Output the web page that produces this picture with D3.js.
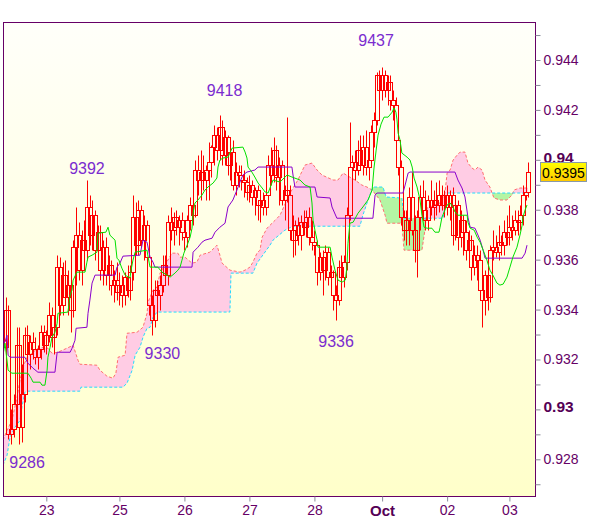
<!DOCTYPE html>
<html><head><meta charset="utf-8">
<script src="https://cdn.jsdelivr.net/npm/d3@7/dist/d3.min.js"></script>
<style>
html,body{margin:0;padding:0;background:#fff;}
svg{display:block;font-family:"Liberation Sans",Arial,sans-serif;}
</style>
</head><body>
<svg id="chart" width="600" height="519"></svg>
<script>
// ---- DATA (prices in pips, 1 pip = 0.0001) ----
const opens = [
9325,9340,9290,9292,9302,9326,9293,9306,9330,9322,
9327,9324,9321,9324,9331,9326,9330,9338,9329,9333,
9357,9342,9354,9345,9350,9340,9365,9370,9356,9368,
9364,9381,9370,9378,9364,9371,9356,9365,9354,9358,
9350,9352,9347,9350,9346,9353,9348,9355,9377,9366,
9380,9368,9374,9361,9342,9336,9348,9346,9350,9358,
9354,9375,9372,9377,9373,9376,9371,9369,9376,9382,
9378,9396,9392,9395,9392,9396,9399,9405,9410,9404,
9413,9402,9409,9398,9403,9390,9395,9394,9392,9391,
9387,9390,9385,9388,9382,9384,9381,9386,9398,9394,
9404,9393,9398,9384,9388,9386,9372,9368,9374,9370,
9375,9373,9377,9369,9367,9366,9355,9361,9356,9363,
9353,9355,9346,9344,9357,9353,9359,9378,9397,9399,
9396,9404,9398,9405,9397,9400,9411,9416,9434,9428,
9434,9428,9431,9424,9422,9408,9397,9377,9372,9376,
9385,9372,9364,9377,9385,9380,9376,9384,9381,9384,
9382,9386,9382,9386,9381,9386,9370,9382,9369,9376,
9371,9364,9368,9357,9362,9360,9348,9344,9354,9345,
9364,9365,9363,9367,9366,9371,9369,9373,9372,9376,
9375,9378,9386,9387];
const highs = [
9345,9342,9300,9306,9333,9333,9318,9333,9334,9330,
9331,9329,9326,9334,9334,9332,9343,9341,9336,9362,
9361,9359,9360,9356,9354,9368,9381,9375,9372,9376,
9392,9386,9384,9380,9374,9374,9368,9369,9362,9360,
9356,9359,9355,9354,9355,9358,9358,9386,9383,9384,
9382,9378,9376,9363,9346,9352,9352,9354,9362,9362,
9378,9381,9379,9380,9378,9379,9376,9378,9385,9386,
9400,9402,9404,9402,9398,9407,9406,9414,9413,9418,
9416,9412,9410,9405,9408,9399,9398,9398,9396,9393,
9394,9392,9389,9390,9386,9387,9388,9402,9405,9409,
9406,9401,9400,9390,9417,9390,9378,9376,9377,9378,
9380,9380,9381,9376,9372,9368,9363,9364,9366,9365,
9358,9356,9350,9360,9362,9362,9381,9415,9402,9404,
9408,9410,9410,9412,9406,9414,9419,9435,9436,9437,
9436,9434,9434,9428,9425,9410,9400,9380,9380,9389,
9395,9378,9380,9390,9392,9388,9386,9392,9388,9391,
9392,9390,9388,9390,9388,9389,9386,9384,9380,9378,
9376,9372,9370,9366,9366,9364,9358,9356,9356,9366,
9372,9370,9374,9370,9376,9378,9382,9378,9380,9380,
9382,9390,9390,9399];
const lows = [
9318,9288,9286,9289,9298,9286,9287,9303,9318,9316,
9320,9318,9316,9320,9323,9322,9327,9325,9322,9330,
9338,9338,9342,9338,9331,9337,9350,9352,9350,9360,
9360,9366,9364,9360,9358,9352,9350,9350,9348,9346,
9343,9344,9342,9341,9342,9345,9344,9352,9362,9362,
9365,9360,9355,9338,9330,9333,9336,9340,9347,9350,
9350,9368,9366,9370,9366,9368,9364,9365,9372,9374,
9377,9386,9384,9388,9384,9384,9393,9398,9400,9400,
9398,9398,9394,9392,9388,9386,9389,9388,9385,9384,
9383,9382,9378,9376,9375,9378,9378,9383,9390,9391,
9388,9382,9382,9376,9383,9368,9361,9362,9366,9364,
9370,9369,9366,9364,9362,9350,9352,9346,9352,9350,
9349,9340,9336,9342,9350,9349,9356,9376,9390,9392,
9394,9396,9394,9394,9392,9398,9405,9414,9424,9424,
9425,9422,9420,9416,9405,9394,9374,9368,9366,9366,
9370,9359,9353,9372,9376,9372,9372,9378,9376,9378,
9379,9380,9377,9378,9376,9366,9368,9364,9365,9362,
9360,9358,9352,9354,9352,9344,9333,9338,9340,9343,
9360,9361,9360,9362,9362,9366,9366,9368,9370,9370,
9372,9374,9384,9385];
const closes = [
9340,9290,9292,9302,9326,9293,9306,9330,9322,9327,
9324,9321,9324,9331,9326,9330,9338,9329,9333,9357,
9342,9354,9345,9350,9340,9365,9370,9356,9368,9364,
9381,9370,9378,9364,9371,9356,9365,9354,9358,9350,
9352,9347,9350,9346,9353,9348,9355,9377,9366,9380,
9368,9374,9361,9342,9336,9348,9346,9350,9358,9354,
9375,9372,9377,9373,9376,9371,9369,9376,9382,9378,
9396,9392,9395,9392,9396,9399,9405,9410,9404,9413,
9402,9409,9398,9403,9390,9395,9394,9392,9391,9387,
9390,9385,9388,9382,9384,9381,9386,9398,9394,9404,
9393,9398,9384,9388,9386,9372,9368,9374,9370,9375,
9373,9377,9369,9367,9366,9355,9361,9356,9363,9353,
9355,9346,9344,9357,9353,9359,9378,9397,9399,9396,
9404,9398,9405,9397,9400,9411,9416,9434,9428,9434,
9428,9431,9424,9422,9408,9397,9377,9372,9376,9385,
9372,9364,9377,9385,9380,9376,9384,9381,9384,9382,
9386,9382,9386,9381,9386,9370,9382,9369,9376,9371,
9364,9368,9357,9362,9360,9348,9344,9354,9345,9364,
9365,9363,9367,9366,9371,9369,9373,9372,9376,9375,
9378,9386,9387,9395];

// day labels and the bar index where each day begins
const dayLabels = ["23","25","26","27","28","Oct","02","03"];
const dayIndex  = [15,42,66,90,114,139,163,186];

// indicator lines: [bar index, pips]
const tenkan = [[-1.0,9321.7],[-0.25,9326.5],[0.9,9315.7],[2.3,9314.5],[8.2,9314.5],[9.4,9312.5],[10.1,9310.9],[12.7,9310.9],[13.4,9309.7],[14.5,9309.7],[15.3,9315.7],[15.6,9320.9],[16.4,9324.9],[17.1,9328.9],[18.2,9330.9],[19.0,9334.5],[19.3,9338.5],[23.0,9339.0],[23.8,9345.8],[24.5,9347.8],[24.9,9351.8],[26.3,9355.0],[29.3,9355.0],[30.0,9359.0],[30.4,9361.0],[31.9,9361.8],[33.7,9363.0],[34.1,9370.6],[37.0,9371.0],[37.8,9373.0],[38.5,9369.8],[40.4,9367.8],[41.1,9360.6],[41.8,9359.8],[42.9,9356.6],[44.1,9353.8],[45.9,9352.6],[46.3,9355.8],[47.0,9359.8],[47.8,9363.0],[52.2,9363.8],[52.6,9361.0],[53.3,9357.0],[56.2,9357.0],[57.7,9355.0],[59.6,9353.8],[60.7,9353.0],[62.5,9354.6],[63.6,9355.8],[64.4,9357.0],[65.1,9359.8],[65.8,9362.6],[67.0,9365.8],[68.1,9369.0],[68.8,9372.6],[69.2,9378.6],[69.9,9382.7],[71.0,9383.9],[72.5,9385.9],[73.6,9387.9],[74.7,9389.1],[76.6,9390.7],[78.0,9392.7],[78.4,9397.1],[79.1,9399.9],[80.2,9400.7],[82.1,9401.1],[83.6,9404.7],[87.6,9405.1],[88.4,9403.1],[89.1,9400.7],[89.5,9397.1],[90.9,9395.1],[92.0,9393.1],[93.2,9390.7],[94.7,9388.7],[95.8,9387.1],[96.9,9386.7],[98.7,9391.9],[101.3,9391.1],[103.9,9393.9],[105.7,9393.1],[108.7,9391.9],[110.5,9389.9],[112.4,9389.1],[113.1,9382.7],[113.5,9375.8],[114.2,9371.8],[115.0,9367.8],[115.3,9365.0],[119.8,9365.0],[120.5,9361.0],[121.6,9355.8],[122.7,9351.8],[124.2,9351.0],[125.4,9351.8],[126.0,9357.0],[126.4,9366.6],[127.1,9374.6],[128.3,9375.0],[130.1,9378.6],[131.9,9381.1],[133.8,9383.9],[135.3,9387.9],[136.0,9396.7],[136.8,9403.9],[137.5,9409.9],[138.6,9414.3],[139.7,9417.1],[141.2,9417.1],[142.7,9419.1],[143.4,9420.8],[144.1,9419.1],[144.5,9416.0],[144.9,9410.7],[145.6,9408.0],[146.3,9402.7],[148.2,9401.1],[149.3,9399.9],[150.1,9397.1],[150.8,9392.7],[151.9,9389.1],[153.0,9383.9],[153.7,9377.8],[154.5,9373.0],[155.6,9372.6],[157.4,9372.6],[158.5,9371.0],[160.0,9371.0],[160.4,9373.0],[161.1,9377.0],[161.9,9379.1],[163.0,9381.9],[164.1,9382.7],[165.2,9381.1],[165.9,9379.1],[167.0,9377.8],[170.4,9377.8],[170.7,9375.0],[171.5,9372.6],[173.0,9371.8],[174.1,9369.0],[175.2,9367.0],[176.3,9363.8],[177.7,9359.8],[178.8,9355.8],[179.9,9353.8],[181.4,9350.6],[182.5,9349.8],[183.7,9350.2],[185.1,9353.0],[186.2,9357.0],[187.3,9361.0],[188.8,9365.0],[189.9,9369.8],[190.7,9373.8],[191.0,9377.0],[191.8,9379.9],[192.5,9381.9]];

const kijun = [[-1.0,9326.5],[-0.25,9327.0],[0.5,9329.7],[0.9,9321.7],[1.6,9320.9],[7.1,9320.9],[8.2,9318.5],[9.0,9317.7],[10.1,9316.5],[11.9,9314.9],[18.2,9314.9],[19.0,9322.9],[23.8,9322.9],[24.5,9324.5],[25.6,9327.7],[26.0,9332.5],[30.0,9332.9],[30.4,9338.5],[31.1,9343.8],[31.9,9350.6],[33.0,9353.8],[40.4,9353.8],[41.1,9357.0],[42.2,9358.6],[43.3,9361.4],[49.6,9361.8],[50.7,9367.8],[52.2,9367.0],[53.3,9361.0],[54.4,9359.0],[55.1,9357.0],[68.8,9357.0],[69.2,9363.0],[71.0,9365.0],[72.5,9367.0],[73.6,9367.8],[76.2,9368.6],[77.3,9371.0],[79.1,9373.0],[81.0,9374.6],[82.1,9381.1],[83.9,9383.9],[85.4,9387.9],[86.5,9391.1],[87.6,9393.9],[89.1,9395.1],[92.0,9395.9],[93.2,9397.1],[105.7,9397.1],[106.1,9393.9],[106.8,9389.1],[114.2,9389.1],[115.0,9385.1],[119.8,9384.7],[120.5,9381.1],[122.3,9376.6],[135.6,9376.6],[136.4,9385.9],[137.1,9386.7],[146.7,9386.7],[147.5,9389.9],[148.6,9394.7],[149.3,9395.1],[165.9,9395.1],[167.0,9391.9],[168.5,9388.7],[169.6,9385.1],[170.7,9377.0],[171.5,9373.0],[173.3,9372.6],[175.2,9367.8],[176.3,9363.8],[177.0,9360.6],[190.7,9360.6],[191.8,9362.6],[192.5,9365.8]];

const spanA = [[-1.0,9287.6],[0.5,9291.6],[2.3,9295.6],[4.2,9304.9],[5.3,9311.7],[6.4,9316.9],[7.9,9320.9],[10.1,9322.9],[11.9,9324.5],[13.8,9324.9],[15.6,9324.5],[17.1,9322.5],[19.3,9322.9],[22.6,9324.5],[24.9,9325.7],[26.7,9319.7],[27.4,9318.1],[33.7,9317.7],[34.8,9315.7],[37.4,9313.3],[39.6,9312.5],[40.7,9314.5],[41.5,9320.9],[44.1,9321.7],[44.8,9330.5],[48.5,9330.9],[50.7,9332.9],[52.2,9338.5],[52.6,9343.0],[54.4,9347.8],[55.9,9349.0],[57.0,9354.6],[58.8,9357.8],[61.4,9362.6],[63.6,9362.6],[64.4,9361.0],[66.2,9361.0],[68.8,9358.6],[70.6,9359.0],[71.8,9361.8],[75.4,9363.0],[77.3,9365.0],[78.0,9365.8],[79.1,9361.8],[79.9,9358.6],[82.8,9355.8],[86.5,9355.0],[88.4,9355.8],[90.2,9357.0],[91.3,9359.0],[92.8,9362.6],[93.9,9363.8],[94.7,9369.0],[96.5,9372.6],[99.5,9375.8],[101.3,9377.8],[105.0,9386.7],[107.9,9391.9],[110.5,9397.9],[113.1,9398.7],[115.0,9395.9],[116.8,9393.9],[120.9,9391.9],[122.7,9391.9],[124.6,9394.7],[126.4,9393.5],[129.0,9391.9],[131.5,9389.9],[133.4,9389.1],[135.3,9387.9],[138.2,9383.9],[140.1,9377.8],[140.8,9374.6],[146.3,9374.6],[147.1,9363.8],[153.7,9363.8],[154.8,9371.8],[155.6,9380.7],[160.4,9382.7],[162.2,9386.7],[163.0,9394.7],[164.1,9395.9],[165.2,9399.9],[166.7,9401.9],[167.8,9403.1],[169.6,9403.1],[170.7,9398.7],[172.2,9396.7],[173.3,9395.9],[174.4,9397.1],[175.9,9395.9],[177.0,9391.9],[178.8,9389.1],[179.6,9386.7],[180.3,9384.7],[182.5,9383.9],[185.1,9383.9],[187.0,9385.9],[187.7,9387.9],[189.9,9388.7],[192.9,9388.7]];

const spanB = [[-1.0,9277.6],[0.5,9281.6],[1.6,9288.8],[3.4,9292.8],[5.3,9295.6],[6.0,9300.9],[7.1,9306.9],[7.9,9307.3],[27.4,9307.3],[27.8,9308.9],[43.3,9308.9],[44.8,9310.5],[46.7,9315.7],[47.8,9321.7],[49.6,9324.9],[50.7,9328.9],[52.2,9332.5],[53.3,9332.9],[54.4,9336.9],[55.9,9339.0],[82.8,9339.0],[83.2,9354.6],[91.3,9354.6],[92.8,9358.6],[97.6,9365.8],[98.7,9367.8],[103.1,9371.8],[106.1,9373.4],[130.8,9373.4],[131.9,9377.8],[133.8,9383.9],[135.6,9389.1],[139.3,9389.1],[140.5,9385.1],[146.3,9384.7],[147.1,9376.6],[161.5,9376.6],[163.0,9386.7],[192.9,9386.7]];

// marked extremes: value (pips) and the bar where it occurs
const extremeValues = [9286, 9392, 9330, 9418, 9336, 9437];
const extremeBars   = [2, 30, 54, 79, 122, 139];

// price axis ticks (pips)
const yTicks = d3.range(9270, 9451, 10);
const lastClose = closes[closes.length - 1];

// ---- DRAWING ----
const svg = d3.select("#chart");
const P = {left:3, top:22, right:535, bottom:496};
const x = d3.scaleLinear().domain([dayIndex[0], dayIndex[dayIndex.length-1]]).range([46.3, 509.4]);
const y = d3.scaleLinear().domain([9280, 9440]).range([459.3, 60]);

const defs = svg.append("defs");
const bg = defs.append("linearGradient").attr("id","bg").attr("x1",0).attr("y1",0).attr("x2",0).attr("y2",1);
bg.append("stop").attr("offset","0%").attr("stop-color","#fffffa");
bg.append("stop").attr("offset","100%").attr("stop-color","#ffffca");
const tag = defs.append("linearGradient").attr("id","tag").attr("x1",0).attr("y1",0).attr("x2",0).attr("y2",1);
tag.append("stop").attr("offset","0%").attr("stop-color","#ffff00");
tag.append("stop").attr("offset","100%").attr("stop-color","#ffc800");
defs.append("clipPath").attr("id","plotclip").append("rect")
  .attr("x",P.left).attr("y",P.top).attr("width",P.right-P.left).attr("height",P.bottom-P.top);

svg.append("rect").attr("x",P.left).attr("y",P.top).attr("width",P.right-P.left).attr("height",P.bottom-P.top)
  .attr("fill","url(#bg)");

const g = svg.append("g").attr("clip-path","url(#plotclip)");

const areaDown = d3.area().x(d=>x(d[0])).y0(d=>y(d[1])).y1(P.bottom+20);
const areaUp = d3.area().x(d=>x(d[0])).y0(P.top-20).y1(d=>y(d[1]));
const lineGen = d3.line().x(d=>x(d[0])).y(d=>y(d[1]));

defs.append("clipPath").attr("id","aboveB").append("path").attr("d", areaUp(spanB));
defs.append("clipPath").attr("id","aboveA").append("path").attr("d", areaUp(spanA));

const cloudG = g.append("g");
cloudG.append("path").attr("d", areaDown(spanA)).attr("fill","#ffcce4").attr("clip-path","url(#aboveB)");
cloudG.append("path").attr("d", areaDown(spanB)).attr("fill","#b4f5a4").attr("clip-path","url(#aboveA)");
g.append("path").attr("d", lineGen(spanA)).attr("fill","none").attr("stroke","#ff6f6f").attr("stroke-width",1).attr("stroke-dasharray","3,2");
g.append("path").attr("d", lineGen(spanB)).attr("fill","none").attr("stroke","#22dcff").attr("stroke-width",1).attr("stroke-dasharray","3,2");

// candles
const candles = g.append("g");
opens.forEach((o,i)=>{
  const c = closes[i], h = highs[i], l = lows[i];
  const cx = Math.round(x(i)) + 0.5;
  const top = Math.round(y(Math.max(o,c))) + 0.5;
  const bot = Math.round(y(Math.min(o,c))) + 0.5;
  const yh = Math.round(y(h)) + 0.5, yl = Math.round(y(l)) + 0.5;
  if (yh < top) candles.append("line").attr("x1",cx).attr("x2",cx).attr("y1",yh).attr("y2",top).attr("stroke","#ff0000");
  if (yl > bot) candles.append("line").attr("x1",cx).attr("x2",cx).attr("y1",bot).attr("y2",yl).attr("stroke","#ff0000");
  candles.append("rect").attr("x",cx-2).attr("y",top).attr("width",4).attr("height",Math.max(0.01,bot-top))
    .attr("fill","none").attr("stroke","#ff0000").attr("stroke-width",1);
});

g.append("path").attr("d", lineGen(kijun)).attr("fill","none").attr("stroke","#8a00cc").attr("stroke-width",1);
g.append("path").attr("d", lineGen(tenkan)).attr("fill","none").attr("stroke","#00e000").attr("stroke-width",1);

// extreme labels
const labelOffsets = [[16,24],[0,-6],[10.5,24],[5,-18.5],[0,27],[-6,-21.5]];
extremeValues.forEach((v,k)=>{
  svg.append("text").attr("x", x(extremeBars[k]) + labelOffsets[k][0]).attr("y", y(v) + labelOffsets[k][1])
    .attr("text-anchor","middle").attr("font-size","16px").attr("fill","#7b2ccf").text(String(v));
});

// border
svg.append("rect").attr("x",P.left+0.5).attr("y",P.top+0.5).attr("width",P.right-P.left).attr("height",P.bottom-P.top)
  .attr("fill","none").attr("stroke","#660066").attr("stroke-width",1);

// y axis
const yAxis = d3.axisRight(y).tickValues(yTicks).tickSize(5).tickPadding(3)
  .tickFormat(d => (d % 20 === 0) ? String(+(d/10000).toFixed(4)) : "");
const ya = svg.append("g").attr("transform",`translate(${P.right+0.5},0)`).call(yAxis);
ya.select(".domain").remove();
ya.selectAll(".tick line").attr("stroke","#8a8a99");
ya.selectAll(".tick text").attr("fill","#660066").attr("font-size","14px")
  .attr("font-family","'Liberation Sans',Arial,sans-serif")
  .each(function(d){
    if (d % 100 === 0) d3.select(this).attr("font-weight","bold").attr("font-size","15.5px").attr("fill","#550055").attr("dy","0.15em");
  });

// x axis
const xAxis = d3.axisBottom(x).tickValues(dayIndex).tickSize(5).tickPadding(4)
  .tickFormat((d,i)=>dayLabels[i]);
const xa = svg.append("g").attr("transform",`translate(0,${P.bottom+0.5})`).call(xAxis);
xa.select(".domain").remove();
xa.selectAll(".tick line").attr("stroke","#8a8a99");
xa.selectAll(".tick text").attr("fill","#660066").attr("font-size","14px")
  .attr("font-family","'Liberation Sans',Arial,sans-serif")
  .each(function(d,i){ if (dayLabels[i]==="Oct") d3.select(this).attr("font-weight","bold").attr("font-size","15px").attr("fill","#550055"); });

// last price tag
const ty = y(lastClose);
svg.append("rect").attr("x",540.5).attr("y",Math.round(ty-10)+0.5).attr("width",46).attr("height",19)
  .attr("fill","url(#tag)").attr("stroke","#8899aa").attr("stroke-width",1);
svg.append("text").attr("x",563.5).attr("y",Math.round(ty-10)+15.5).attr("text-anchor","middle")
  .attr("font-size","14px").attr("fill","#000").text((lastClose/10000).toFixed(4));
</script>
</body></html>
